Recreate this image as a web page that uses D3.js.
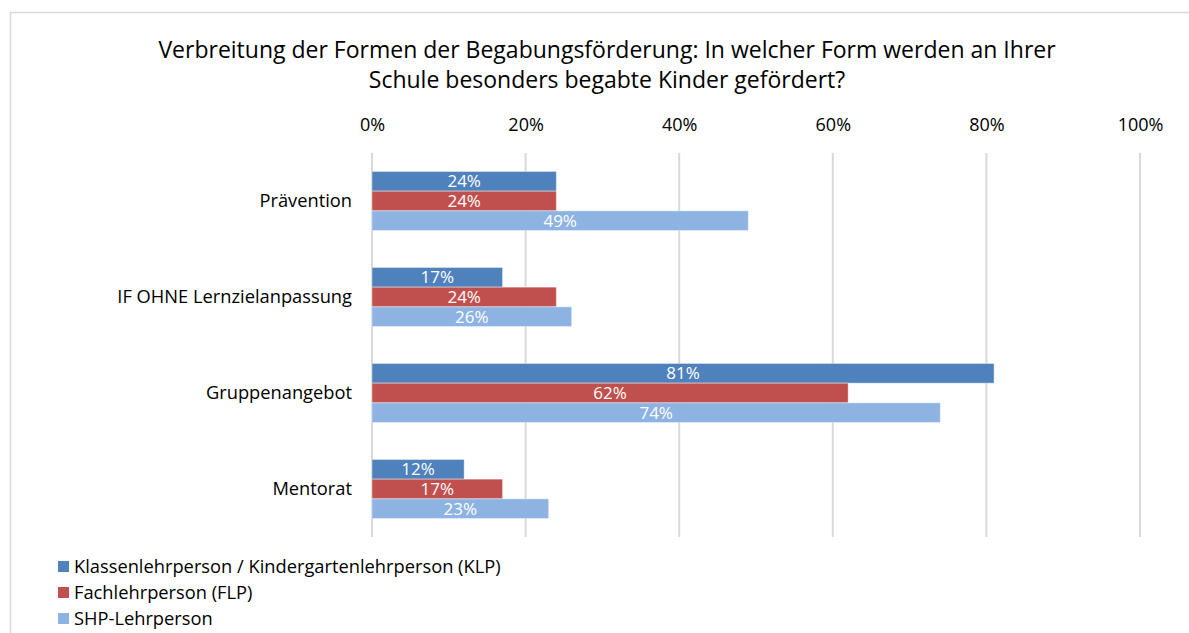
<!DOCTYPE html>
<html>
<head>
<meta charset="utf-8">
<script src="https://cdn.jsdelivr.net/npm/d3@7"></script>
<style>
  body { margin: 0; background: #fff; }
  text { font-family: "Open Sans", sans-serif; fill: #000; }
</style>
</head>
<body>
<div id="chart"></div>
<script>
// chart size
const width = 1189;
const height = 633;

// data
const categories = ["Prävention", "IF OHNE Lernzielanpassung", "Gruppenangebot", "Mentorat"];
const seriesNames = ["Klassenlehrperson / Kindergartenlehrperson (KLP)", "Fachlehrperson (FLP)", "SHP-Lehrperson"];
const klp = [24, 17, 81, 12];
const flp = [24, 24, 62, 17];
const shp = [49, 26, 74, 23];
const tickValues = [0, 20, 40, 60, 80, 100];
const titleLines = ["Verbreitung der Formen der Begabungsförderung: In welcher Form werden an Ihrer",
  "Schule besonders begabte Kinder gefördert?"];

const colors = ["#4F81BD", "#C0504D", "#8DB3E2"];
const seriesValues = [klp, flp, shp];

const plot = { left: 372, right: 1140, top: 153, bottom: 537 };
const labelSize = "18.3px";

const svg = d3.select("#chart").append("svg")
  .attr("width", width)
  .attr("height", height);

// chart frame (only top + left visible in the crop)
svg.append("path")
  .attr("d", `M10.5,${height} V12.5 H${width}`)
  .attr("fill", "none")
  .attr("stroke", "#D9D9D9")
  .attr("stroke-width", 1.5);

// title
svg.append("g").selectAll("text").data(titleLines).enter()
  .append("text")
  .attr("x", 607)
  .attr("y", (d, i) => 58 + i * 30)
  .attr("text-anchor", "middle")
  .style("font-size", "23px")
  .text(d => d);

// scales
const x = d3.scaleLinear().domain([0, 100]).range([plot.left, plot.right]);
const y0 = d3.scaleBand().domain(categories)
  .range([plot.top, plot.bottom])
  .paddingInner(0.385)
  .paddingOuter(0.1925);
const y1 = d3.scaleBand().domain(d3.range(seriesNames.length))
  .range([0, y0.bandwidth()]);

// gridlines
svg.append("g").selectAll("line").data(tickValues).enter()
  .append("line")
  .attr("x1", d => x(d)).attr("x2", d => x(d))
  .attr("y1", plot.top).attr("y2", plot.bottom)
  .attr("stroke", "#D9D9D9")
  .attr("stroke-width", 2);

// top axis labels
const xAxis = d3.axisTop(x).tickValues(tickValues).tickFormat(d => d + "%").tickSize(0).tickPadding(0);
const axisG = svg.append("g")
  .attr("transform", "translate(0,131)")
  .call(xAxis);
axisG.select(".domain").remove();
axisG.selectAll("text")
  .attr("dy", 0)
  .style("font-size", "18px")
  .style("font-family", null);

// category labels
svg.append("g").selectAll("text").data(categories).enter()
  .append("text")
  .attr("x", 352)
  .attr("y", d => y0(d) + y0.bandwidth() / 2)
  .attr("dy", "0.35em")
  .attr("text-anchor", "end")
  .style("font-size", labelSize)
  .text(d => d);

// bars
const rows = [];
categories.forEach((c, ci) => {
  seriesValues.forEach((vals, si) => {
    rows.push({ cat: c, series: si, value: vals[ci] });
  });
});

const barG = svg.append("g");
barG.selectAll("rect").data(rows).enter()
  .append("rect")
  .attr("x", x(0))
  .attr("y", d => y0(d.cat) + y1(d.series))
  .attr("width", d => x(d.value) - x(0))
  .attr("height", y1.bandwidth())
  .attr("fill", d => colors[d.series])
  .attr("stroke", "#fff")
  .attr("stroke-opacity", 0.4)
  .attr("stroke-width", 1);

// data labels
barG.selectAll("text").data(rows).enter()
  .append("text")
  .attr("x", d => (x(d.value) + x(0)) / 2)
  .attr("y", d => y0(d.cat) + y1(d.series) + y1.bandwidth() / 2)
  .attr("dy", "0.36em")
  .attr("text-anchor", "middle")
  .style("font-size", "17px")
  .style("fill", "#fff")
  .text(d => d.value + "%");

// legend
const legend = svg.append("g").selectAll("g").data(seriesNames).enter()
  .append("g")
  .attr("transform", (d, i) => `translate(58,${567 + i * 26})`);
legend.append("rect")
  .attr("x", 0).attr("y", -6)
  .attr("width", 11).attr("height", 11)
  .attr("fill", (d, i) => colors[i]);
legend.append("text")
  .attr("x", 16)
  .attr("dy", "0.35em")
  .style("font-size", labelSize)
  .text(d => d);
</script>
</body>
</html>
